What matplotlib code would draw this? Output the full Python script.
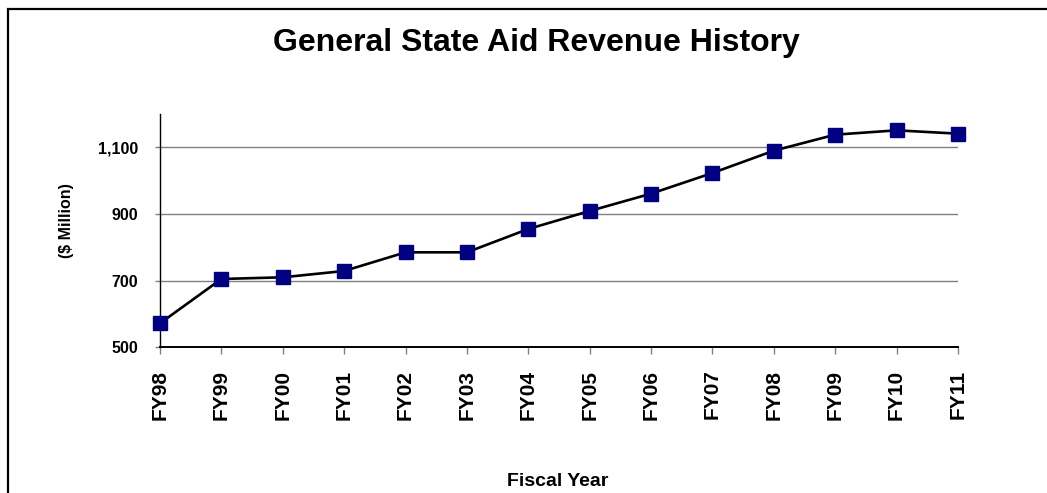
import matplotlib
matplotlib.use("Agg")
import matplotlib.pyplot as plt
from matplotlib.patches import Rectangle

plt.rcParams['font.family'] = ['Liberation Sans', 'DejaVu Sans']

years = ["FY98", "FY99", "FY00", "FY01", "FY02", "FY03", "FY04",
         "FY05", "FY06", "FY07", "FY08", "FY09", "FY10", "FY11"]
revenue = [572, 705, 710, 729, 785, 785, 855,
           909, 961, 1023, 1090, 1138, 1151, 1141]
y_ticks = [500, 700, 900, 1100]
y_tick_labels = ["500", "700", "900", "1,100"]

W, H = 1047, 493
fig = plt.figure(figsize=(W / 100, H / 100), dpi=100)
fig.patch.set_facecolor("white")

# outer frame (left / top visible)
fig.patches.append(Rectangle((7.5 / W, -0.2), 1.5, 1.2 - 8.5 / H,
                             transform=fig.transFigure, fill=False,
                             edgecolor="black", linewidth=1.6, zorder=0))

left, right, top, bottom = 160, 958, 114, 347.3
ax = fig.add_axes([left / W, 1 - bottom / H, (right - left) / W, (bottom - top) / H])

x = list(range(len(years)))
ax.plot(x, revenue, color="black", linewidth=1.9, zorder=3,
        marker="s", markersize=9.5, markerfacecolor="#000080",
        markeredgecolor="#000080", clip_on=False)

ax.set_xlim(0, len(years) - 1)
ax.set_ylim(500, 1200)
ax.set_yticks(y_ticks)
ax.set_yticklabels(y_tick_labels, fontsize=11.5, fontweight="bold")
ax.set_xticks(x)
ax.set_xticklabels(years, rotation=90, fontsize=15, fontweight="bold")

for v in y_ticks[1:]:
    ax.axhline(v, color="#808080", linewidth=1.0, zorder=1)

ax.tick_params(axis="y", length=3.5, width=1.0, color="#808080", pad=12)
ax.tick_params(axis="x", length=5, width=1.0, color="#808080", pad=11)

for s in ["top", "right"]:
    ax.spines[s].set_visible(False)
ax.spines["left"].set_color("black")
ax.spines["left"].set_linewidth(1.0)
ax.spines["bottom"].set_color("black")
ax.spines["bottom"].set_linewidth(1.4)

fig.text(536 / W, 1 - 43 / H, "General State Aid Revenue History",
         ha="center", va="center", fontsize=23, fontweight="bold")
fig.text(67 / W, 1 - 221 / H, "($ Million)", rotation=90,
         ha="center", va="center", fontsize=11.5, fontweight="bold")
fig.text(558 / W, 1 - 481 / H, "Fiscal Year",
         ha="center", va="center", fontsize=14, fontweight="bold")

fig.savefig("out.png", dpi=100)
